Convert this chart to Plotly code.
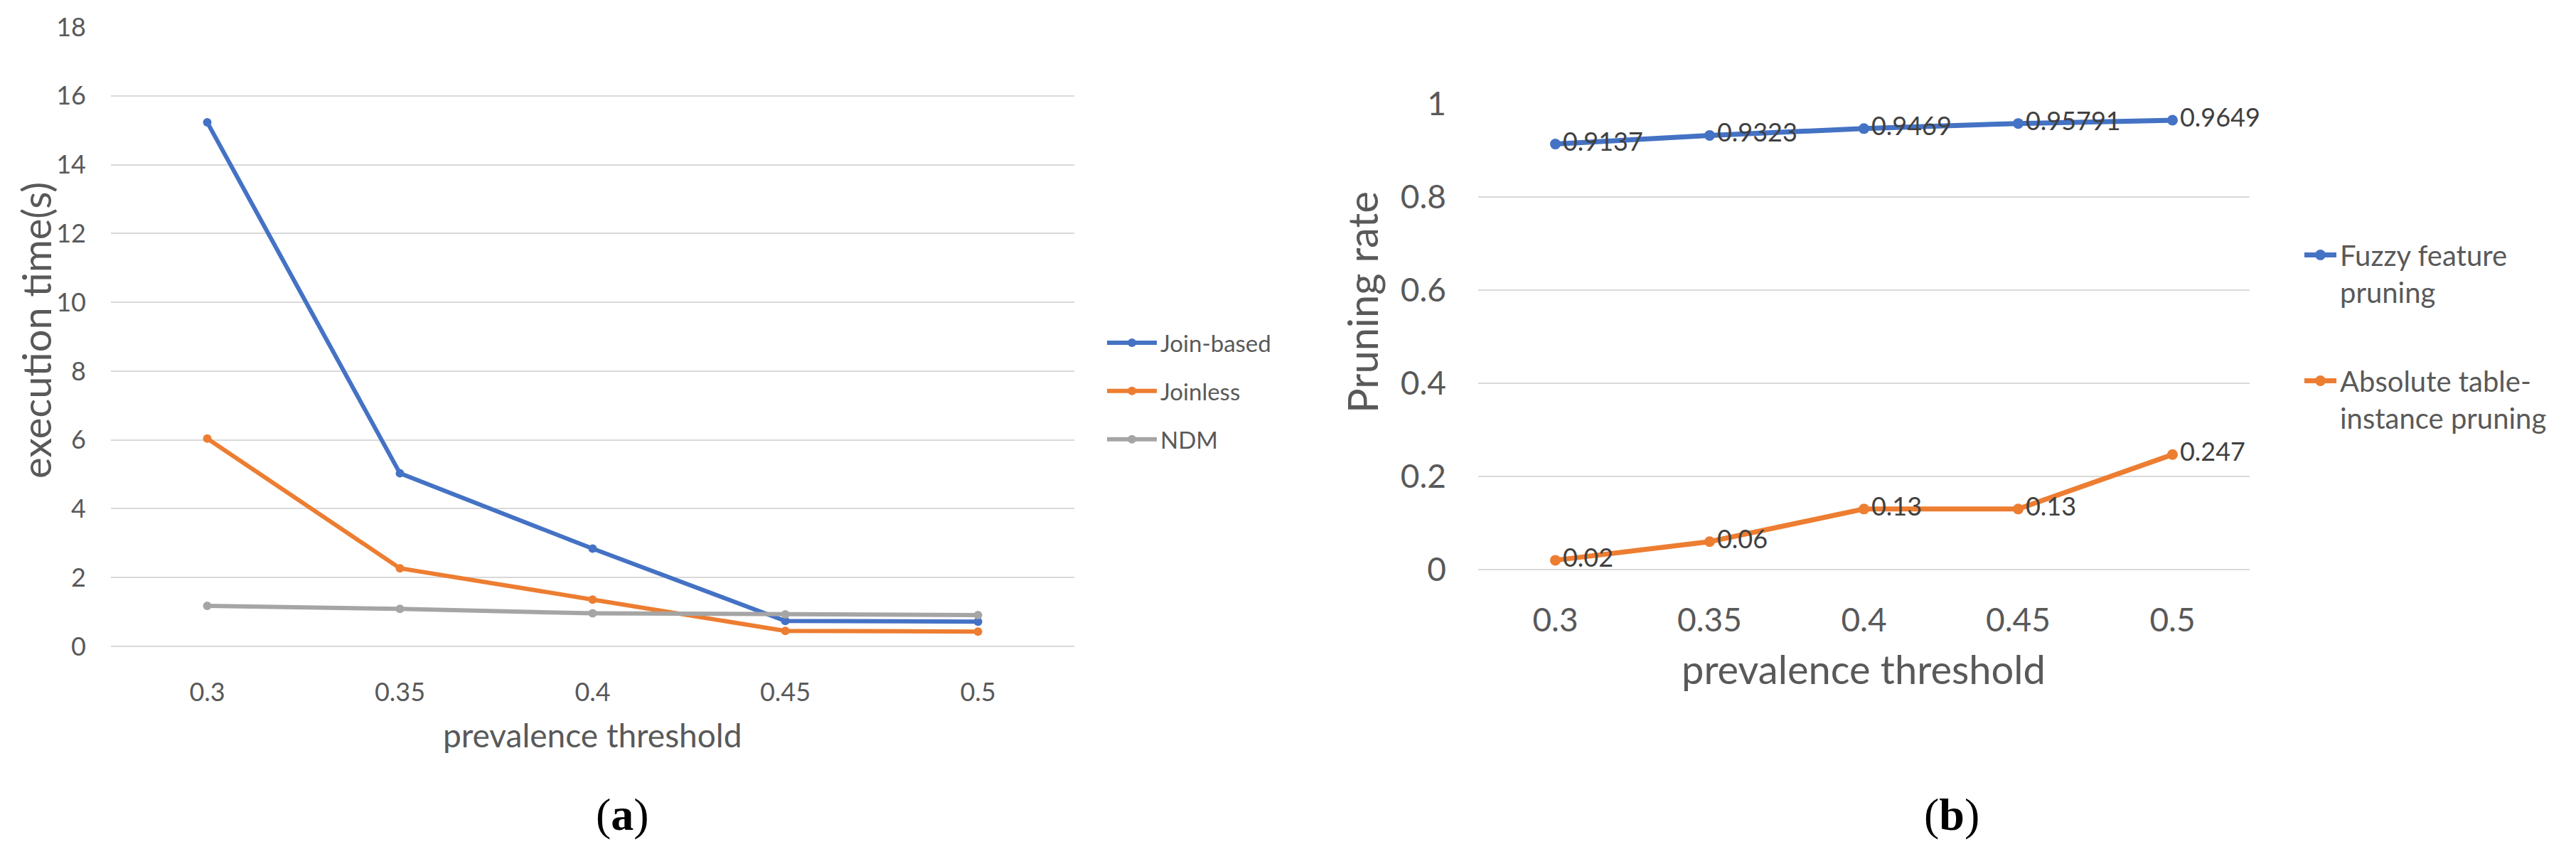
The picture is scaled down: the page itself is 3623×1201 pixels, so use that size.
import plotly.graph_objects as go

# ---------------- data ----------------
thresholds = ["0.3", "0.35", "0.4", "0.45", "0.5"]

join_based = [15.23, 5.03, 2.84, 0.74, 0.72]
joinless = [6.04, 2.27, 1.36, 0.45, 0.43]
ndm = [1.18, 1.09, 0.96, 0.93, 0.91]

fuzzy_feature_pruning = [0.9137, 0.9323, 0.9469, 0.95791, 0.9649]
absolute_table_instance_pruning = [0.02, 0.06, 0.13, 0.13, 0.247]

left_yticks = [0, 2, 4, 6, 8, 10, 12, 14, 16, 18]
right_yticks = [0, 0.2, 0.4, 0.6, 0.8, 1]

BLUE = "#4472C4"
ORANGE = "#ED7D31"
GRAY = "#A5A5A5"
GRID = "#D9D9D9"
TXT = "#595959"
FONT = "Lato, Calibri, 'Open Sans', sans-serif"
SERIF = "'Liberation Serif', 'DejaVu Serif', serif"

W, H = 3623, 1201
PAGE_MARGIN = 8  # default body margin of the html page


def px(x):
    return (x - PAGE_MARGIN) / W


def py(y):
    return (H - (y - PAGE_MARGIN)) / H


fig = go.Figure()

for name, vals, color in [("Join-based", join_based, BLUE),
                          ("Joinless", joinless, ORANGE),
                          ("NDM", ndm, GRAY)]:
    fig.add_trace(go.Scatter(
        x=thresholds, y=vals, name=name, mode="lines+markers",
        line=dict(color=color, width=6), marker=dict(color=color, size=12),
        xaxis="x", yaxis="y", legend="legend", legendgroup=name))

for name, vals, color in [("Fuzzy feature<br>pruning", fuzzy_feature_pruning, BLUE),
                          ("Absolute table-<br>instance pruning", absolute_table_instance_pruning, ORANGE)]:
    fig.add_trace(go.Scatter(
        x=thresholds, y=vals, name=name, mode="lines+markers+text",
        text=[str(v) for v in vals], textposition="middle right",
        textfont=dict(family=FONT, size=36, color="#404040"),
        cliponaxis=False,
        line=dict(color=color, width=7), marker=dict(color=color, size=15),
        xaxis="x2", yaxis="y2", legend="legend2", legendgroup=name))

fig.update_layout(
    width=W, height=H,
    margin=dict(l=0, r=0, t=0, b=0, autoexpand=False),
    paper_bgcolor="white", plot_bgcolor="white",
    font=dict(family=FONT, color=TXT),
    xaxis=dict(domain=[px(156), px(1511)], type="category", range=[-0.5, 4.5],
               showgrid=False, zeroline=False, anchor="y", automargin=False,
               tickfont=dict(family=FONT, size=36, color=TXT), ticklabelstandoff=40,
               showline=False, ticks=""),
    yaxis=dict(domain=[py(909), py(38)], range=[0, 18.001], tickvals=left_yticks,
               showgrid=True, gridcolor=GRID, gridwidth=2, automargin=False,
               zeroline=True, zerolinecolor=GRID, zerolinewidth=2, anchor="x",
               tickfont=dict(family=FONT, size=36, color=TXT), ticklabelstandoff=34,
               showline=False, ticks=""),
    xaxis2=dict(domain=[px(2079), px(3164)], type="category", range=[-0.5, 4.5],
                showgrid=False, zeroline=False, anchor="y2", automargin=False,
                tickfont=dict(family=FONT, size=46, color=TXT), ticklabelstandoff=40,
                showline=False, ticks=""),
    yaxis2=dict(domain=[py(801), py(146)], range=[0, 1.0001], tickvals=right_yticks,
                ticktext=["0", "0.2", "0.4", "0.6", "0.8", "1"],
                showgrid=True, gridcolor=GRID, gridwidth=2, automargin=False,
                zeroline=True, zerolinecolor=GRID, zerolinewidth=2, anchor="x2",
                tickfont=dict(family=FONT, size=46, color=TXT), ticklabelstandoff=44,
                showline=False, ticks=""),
    legend=dict(x=px(1552), y=py(454), xanchor="left", yanchor="top",
                font=dict(family=FONT, size=33, color=TXT), tracegroupgap=22,
                itemwidth=70, bgcolor="rgba(0,0,0,0)"),
    legend2=dict(x=px(3236), y=py(326), xanchor="left", yanchor="top",
                 font=dict(family=FONT, size=40, color=TXT), tracegroupgap=70,
                 itemwidth=45, valign="top", bgcolor="rgba(0,0,0,0)"),
    annotations=[
        dict(text="execution time(s)", x=px(50), y=py(465), xref="paper", yref="paper",
             xanchor="center", yanchor="middle",
             showarrow=False, textangle=-90, font=dict(family=FONT, size=56, color=TXT)),
        dict(text="prevalence threshold", x=px(833), y=py(1033), xref="paper", yref="paper",
             xanchor="center", yanchor="middle",
             showarrow=False, font=dict(family=FONT, size=46, color=TXT)),
        dict(text="Pruning rate", x=px(1915), y=py(425), xref="paper", yref="paper",
             xanchor="center", yanchor="middle",
             showarrow=False, textangle=-90, font=dict(family=FONT, size=58, color=TXT)),
        dict(text="prevalence threshold", x=px(2621), y=py(940), xref="paper", yref="paper",
             xanchor="center", yanchor="middle",
             showarrow=False, font=dict(family=FONT, size=56, color=TXT)),
        dict(text="(<b>a</b>)", x=px(875), y=py(1145), xref="paper", yref="paper",
             xanchor="center", yanchor="middle",
             showarrow=False, font=dict(family=SERIF, size=64, color="black")),
        dict(text="(<b>b</b>)", x=px(2745), y=py(1145), xref="paper", yref="paper",
             xanchor="center", yanchor="middle",
             showarrow=False, font=dict(family=SERIF, size=64, color="black")),
    ],
)

fig.write_html("out.html")
